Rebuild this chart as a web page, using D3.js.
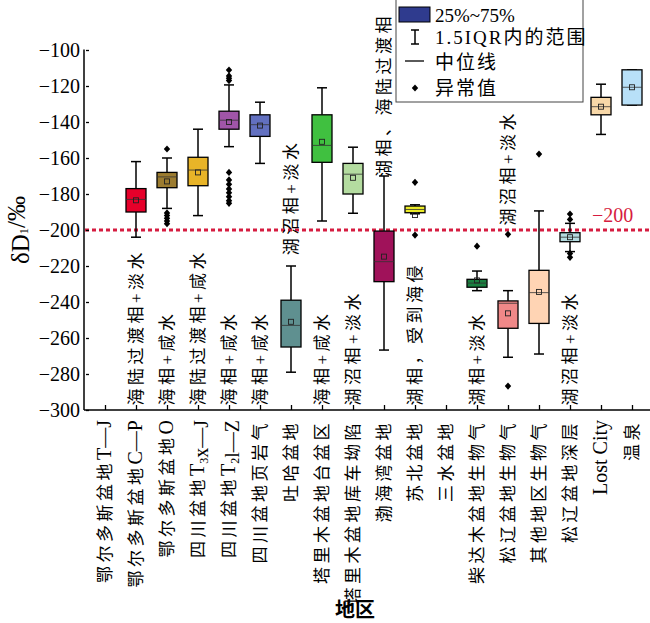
<!DOCTYPE html>
<html>
<head>
<meta charset="utf-8">
<script src="https://cdn.jsdelivr.net/npm/d3@7"></script>
<style>
  body { margin: 0; background: #fff; }
  svg { display: block; }
  text { font-family: 'Liberation Serif', 'Noto Sans CJK SC', serif; fill: #000; }
</style>
</head>
<body>
<svg id="chart" width="650" height="623"></svg>
<script>
// categories ("_x" = subscript character)
const categories = [
  "鄂尔多斯盆地T—J", "鄂尔多斯盆地C—P", "鄂尔多斯盆地O", "四川盆地T_3x—J", "四川盆地T_2l—Z",
  "四川盆地页岩气", "吐哈盆地", "塔里木盆地台盆区", "塔里木盆地库车坳陷", "渤海湾盆地",
  "苏北盆地", "三水盆地", "柴达木盆地生物气", "松辽盆地生物气", "其他地区生物气",
  "松辽盆地深层", "Lost City", "温泉"
];

// box statistics, δD1 (‰); null = no data
const whiskerLow  = [null, -204, -188, -192, -153.7, -163, -279, -195, -190.7, -266.7, -191, null, -233.7, -270.7, -268.9, -212, -146.9, -130.6];
const q1Values    = [null, -190, -176.5, -175.4, -144, -148, -265, -162.4, -180, -228.7, -190.4, null, -231.8, -254.6, -251.9, -206.5, -136, -130.6];
const medians     = [null, -183, -170.5, -166.7, -139, -141.5, -253, -153, -169, -217.6, -188.6, null, -229.5, -240.7, -234.8, -204, -131.5, -120.7];
const means       = [null, -183.5, -173, -168, -140, -142, -251, -151, -171, -214.8, -191.7, null, -228, -246.3, -234.4, -204, -131.5, -120.7];
const q3Values    = [null, -177, -168, -159.6, -134, -136, -239, -136, -163, -200.6, -186.7, null, -227.4, -239.4, -222.4, -201.5, -126.3, -111];
const whiskerHigh = [null, -162, -160, -144, -119.4, -129, -220, -121, -154, -170, -186, null, -222.8, -233.7, -189.4, -196.3, -119, -111];
const outliers = [
  [], [], [-155, -190.5, -192, -193.5, -195, -196.5], [],
  [-111.1, -114.4, -115.7, -117, -168, -172.2, -174.6, -177.2, -179.3, -181.5, -183.7, -185.2],
  [], [], [], [], [], [-173.5, -202.8], [], [-209], [-202.4, -286.7], [-157.8],
  [-191.1, -194.1, -213, -215.2], [], []
];
const boxColors = ["#ffffff", "#e6002a", "#9c7c30", "#e8b428", "#a055a8", "#6270c0", "#5f9090", "#40c040",
  "#b4dca0", "#a0125a", "#ecec28", "#ffffff", "#1a8040", "#f08888", "#ffd4b4", "#b4dce0", "#f8d8a8", "#b8e0f8"];

// annotations: category index, text, value where the text starts (reads upward)
const noteIndex = [1, 2, 3, 4, 5, 6, 7, 8, 9, 10, 12, 13, 15];
const noteText = ["海陆过渡相+淡水", "海相+咸水", "海陆过渡相+咸水", "海相+咸水", "海相+咸水", "湖沼相+淡水",
  "海相+咸水", "湖沼相+淡水", "湖相、海陆过渡相", "湖相，受到海侵", "湖相+淡水", "湖沼相+淡水", "湖沼相+淡水"];
const noteBase = [-297.5, -297.5, -297.5, -297.5, -297.5, -214, -297.5, -297.5, -170.5, -297.5, -297.5, -197.5, -297.5];

const yTicks = d3.range(-300, -99, 20);
const refValue = -200;

const svg = d3.select('#chart');
const red = '#d61c40';
const serif = "'Liberation Serif', 'Noto Sans CJK SC', serif";

const x = d3.scalePoint().domain(d3.range(categories.length)).range([105, 632]);
const y = d3.scaleLinear().domain([-300, -100]).range([410, 50]);

// Reference line
svg.append('line')
  .attr('x1', 85).attr('x2', 650)
  .attr('y1', y(refValue)).attr('y2', y(refValue))
  .attr('stroke', red).attr('stroke-width', 3).attr('stroke-dasharray', '4,3');
svg.append('text')
  .attr('x', 592).attr('y', y(refValue) - 8)
  .attr('font-size', 20).style('fill', red)
  .text('−200');

// Axes
const yAxis = svg.append('g')
  .attr('transform', 'translate(84,0)')
  .call(d3.axisLeft(y).tickValues(yTicks).tickSizeInner(-5).tickSizeOuter(0).tickPadding(4));
yAxis.select('.domain').remove();
yAxis.selectAll('.tick line').attr('x1', 2).attr('stroke-width', 1.3);
yAxis.selectAll('text').style('font-family', serif).style('font-size', '20px');
svg.append('line').attr('x1', 84).attr('x2', 84).attr('y1', 49.5).attr('y2', 410).attr('stroke', '#000').attr('stroke-width', 1.5);

const xAxis = svg.append('g')
  .attr('transform', 'translate(0,410)')
  .call(d3.axisBottom(x).tickSizeInner(-5).tickSizeOuter(0).tickFormat(''));
xAxis.select('.domain').remove();
xAxis.selectAll('.tick line').attr('stroke-width', 1.3);
svg.append('line').attr('x1', 84).attr('x2', 650).attr('y1', 410).attr('y2', 410).attr('stroke', '#000').attr('stroke-width', 1.5);

// mixed text: CJK runs spaced, Latin runs larger, "_c" subscripts
const cjk = /[\u3000-\u9fff\uff00-\uffef+]/;
function richText(sel, str) {
  const tokens = [];
  for (let k = 0; k < str.length; k++) {
    const ch = str[k];
    if (ch === '_') { tokens.push({ t: str[k + 1], kind: 'sub' }); k++; continue; }
    const kind = cjk.test(ch) ? 'cjk' : 'lat';
    const last = tokens[tokens.length - 1];
    if (last && last.kind === kind) last.t += ch; else tokens.push({ t: ch, kind });
  }
  tokens.forEach(tk => {
    if (tk.kind === 'sub') {
      sel.append('tspan').attr('font-size', 12).attr('dy', 4).text(tk.t);
      sel.append('tspan').attr('dy', -4).text('');
    } else if (tk.kind === 'cjk') {
      sel.append('tspan').attr('font-size', 17).attr('letter-spacing', 3.5).text(tk.t);
    } else {
      sel.append('tspan').attr('font-size', 20).attr('letter-spacing', 0).text(tk.t);
    }
  });
}

categories.forEach((c, i) => {
  const t = svg.append('text')
    .attr('transform', `translate(${x(i)},420) rotate(-90)`)
    .attr('text-anchor', 'end')
    .attr('font-size', 17)
    .attr('dy', '0.36em');
  richText(t, c);
});

// Boxes
const boxW = 20, capW = 10;
const diamond = (cx, cy) => `M${cx},${cy - 3.6}L${cx + 3.2},${cy}L${cx},${cy + 3.6}L${cx - 3.2},${cy}Z`;

categories.forEach((c, i) => {
  if (q1Values[i] === null) return;
  const g = svg.append('g');
  const cx = x(i);
  // whiskers
  [[whiskerLow[i], q1Values[i]], [q3Values[i], whiskerHigh[i]]].forEach(([a, b]) => {
    g.append('line').attr('x1', cx).attr('x2', cx).attr('y1', y(a)).attr('y2', y(b))
      .attr('stroke', '#000').attr('stroke-width', 1.5);
  });
  [whiskerLow[i], whiskerHigh[i]].forEach(v => {
    g.append('line').attr('x1', cx - capW / 2).attr('x2', cx + capW / 2).attr('y1', y(v)).attr('y2', y(v))
      .attr('stroke', '#000').attr('stroke-width', 1.5);
  });
  g.append('rect')
    .attr('x', cx - boxW / 2).attr('width', boxW)
    .attr('y', y(q3Values[i])).attr('height', y(q1Values[i]) - y(q3Values[i]))
    .attr('fill', boxColors[i]).attr('stroke', '#000').attr('stroke-width', 1.3);
  g.append('line').attr('x1', cx - boxW / 2).attr('x2', cx + boxW / 2)
    .attr('y1', y(medians[i])).attr('y2', y(medians[i]))
    .attr('stroke', '#333').attr('stroke-width', 0.8);
  g.append('rect').attr('x', cx - 2.5).attr('y', y(means[i]) - 2.5).attr('width', 5).attr('height', 5)
    .attr('fill', 'none').attr('stroke', '#222').attr('stroke-width', 0.9);
  outliers[i].forEach(v => {
    g.append('path').attr('d', diamond(cx, y(v))).attr('fill', '#000');
  });
});

// Annotations
noteIndex.forEach((ci, k) => {
  const t = svg.append('text')
    .attr('transform', `translate(${x(ci)},${y(noteBase[k])}) rotate(-90)`)
    .attr('text-anchor', 'start')
    .attr('font-size', 17)
    .attr('dy', '0.36em');
  richText(t, noteText[k]);
});

// Legend
const lg = svg.append('g');
lg.append('rect').attr('x', 396).attr('y', -1).attr('width', 187).attr('height', 103)
  .attr('fill', '#fff').attr('stroke', '#444').attr('stroke-width', 1);
lg.append('rect').attr('x', 399).attr('y', 7).attr('width', 31).attr('height', 15)
  .attr('fill', '#2f3b8e').attr('stroke', '#000').attr('stroke-width', 1);
lg.append('line').attr('x1', 415).attr('x2', 415).attr('y1', 30).attr('y2', 44).attr('stroke', '#000').attr('stroke-width', 1.5);
lg.append('line').attr('x1', 411).attr('x2', 419).attr('y1', 30).attr('y2', 30).attr('stroke', '#000').attr('stroke-width', 1.5);
lg.append('line').attr('x1', 411).attr('x2', 419).attr('y1', 44).attr('y2', 44).attr('stroke', '#000').attr('stroke-width', 1.5);
lg.append('line').attr('x1', 405).attr('x2', 424).attr('y1', 61).attr('y2', 61).attr('stroke', '#000').attr('stroke-width', 1.3);
lg.append('path').attr('d', diamond(415, 88)).attr('fill', '#000');
const legendText = ['25%~75%', '1.5IQR内的范围', '中位线', '异常值'];
const legendY = [15, 37, 62, 88];
legendText.forEach((t, k) => {
  lg.append('text').attr('x', 435).attr('y', legendY[k]).attr('dominant-baseline', 'central')
    .attr('font-size', 19).attr('letter-spacing', k > 0 ? 2 : 0).text(t);
});

// Axis titles
const yt = svg.append('text')
  .attr('transform', 'translate(20,230) rotate(-90)')
  .attr('text-anchor', 'middle')
  .attr('dominant-baseline', 'central')
  .attr('font-size', 25);
yt.append('tspan').text('δD');
yt.append('tspan').attr('font-size', '0.5em').attr('dy', '0.3em').text('1');
yt.append('tspan').attr('dy', '-0.3em').text('/‰');

svg.append('text')
  .attr('x', 355).attr('y', 617)
  .attr('text-anchor', 'middle')
  .attr('font-size', 20).attr('font-weight', 'bold')
  .text('地区');
</script>
</body>
</html>
